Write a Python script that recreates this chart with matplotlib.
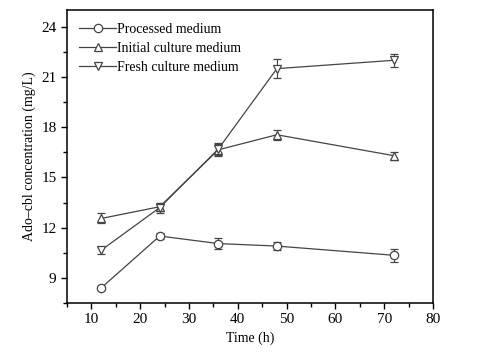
import matplotlib.pyplot as plt
from matplotlib.ticker import MultipleLocator

plt.rcParams['font.family'] = ['Liberation Serif', 'DejaVu Serif']

time_h = [12, 24, 36, 48, 72]
processed = [8.4, 11.5, 11.05, 10.9, 10.35]
processed_err = [0.1, 0.2, 0.35, 0.25, 0.4]
initial = [12.55, 13.25, 16.65, 17.55, 16.3]
initial_err = [0.3, 0.25, 0.35, 0.3, 0.25]
fresh = [10.65, 13.2, 16.7, 21.5, 22.0]
fresh_err = [0.2, 0.3, 0.35, 0.55, 0.4]

fig = plt.figure(figsize=(4.94, 3.59), dpi=100)
ax = fig.add_axes([0.1356, 0.156, 0.741, 0.816])

c = '#444444'
common = dict(color=c, lw=0.9, ms=6, mfc='white', mec=c, mew=0.9,
              ecolor=c, elinewidth=0.8, capsize=3, capthick=0.8)
e1 = ax.errorbar(time_h, processed, yerr=processed_err, marker='o', **common)
e2 = ax.errorbar(time_h, initial, yerr=initial_err, marker='^', **common)
e3 = ax.errorbar(time_h, fresh, yerr=fresh_err, marker='v', **common)

ax.set_xlim(5, 80)
ax.set_ylim(7.5, 25)
ax.xaxis.set_major_locator(MultipleLocator(10))
ax.xaxis.set_minor_locator(MultipleLocator(5))
ax.yaxis.set_major_locator(MultipleLocator(3))
ax.yaxis.set_minor_locator(MultipleLocator(1.5))
ax.tick_params(which='both', direction='out', top=False, right=False, labelsize=11)
ax.tick_params(which='major', length=4, width=1)
ax.tick_params(which='minor', length=3, width=1)
for s in ax.spines.values():
    s.set_linewidth(1.1)

ax.set_xlabel('Time (h)', fontsize=10)
ax.set_ylabel('Ado\u2013cbl concentration (mg/L)', fontsize=10)

ax.legend([e1[0], e2[0], e3[0]],
          ['Processed medium', 'Initial culture medium', 'Fresh culture medium'],
          loc='upper left', frameon=False, fontsize=10, handlelength=2.6,
          handletextpad=0.1, borderaxespad=0.6, borderpad=0.3, labelspacing=0.45)

fig.savefig('out.png', dpi=100)
